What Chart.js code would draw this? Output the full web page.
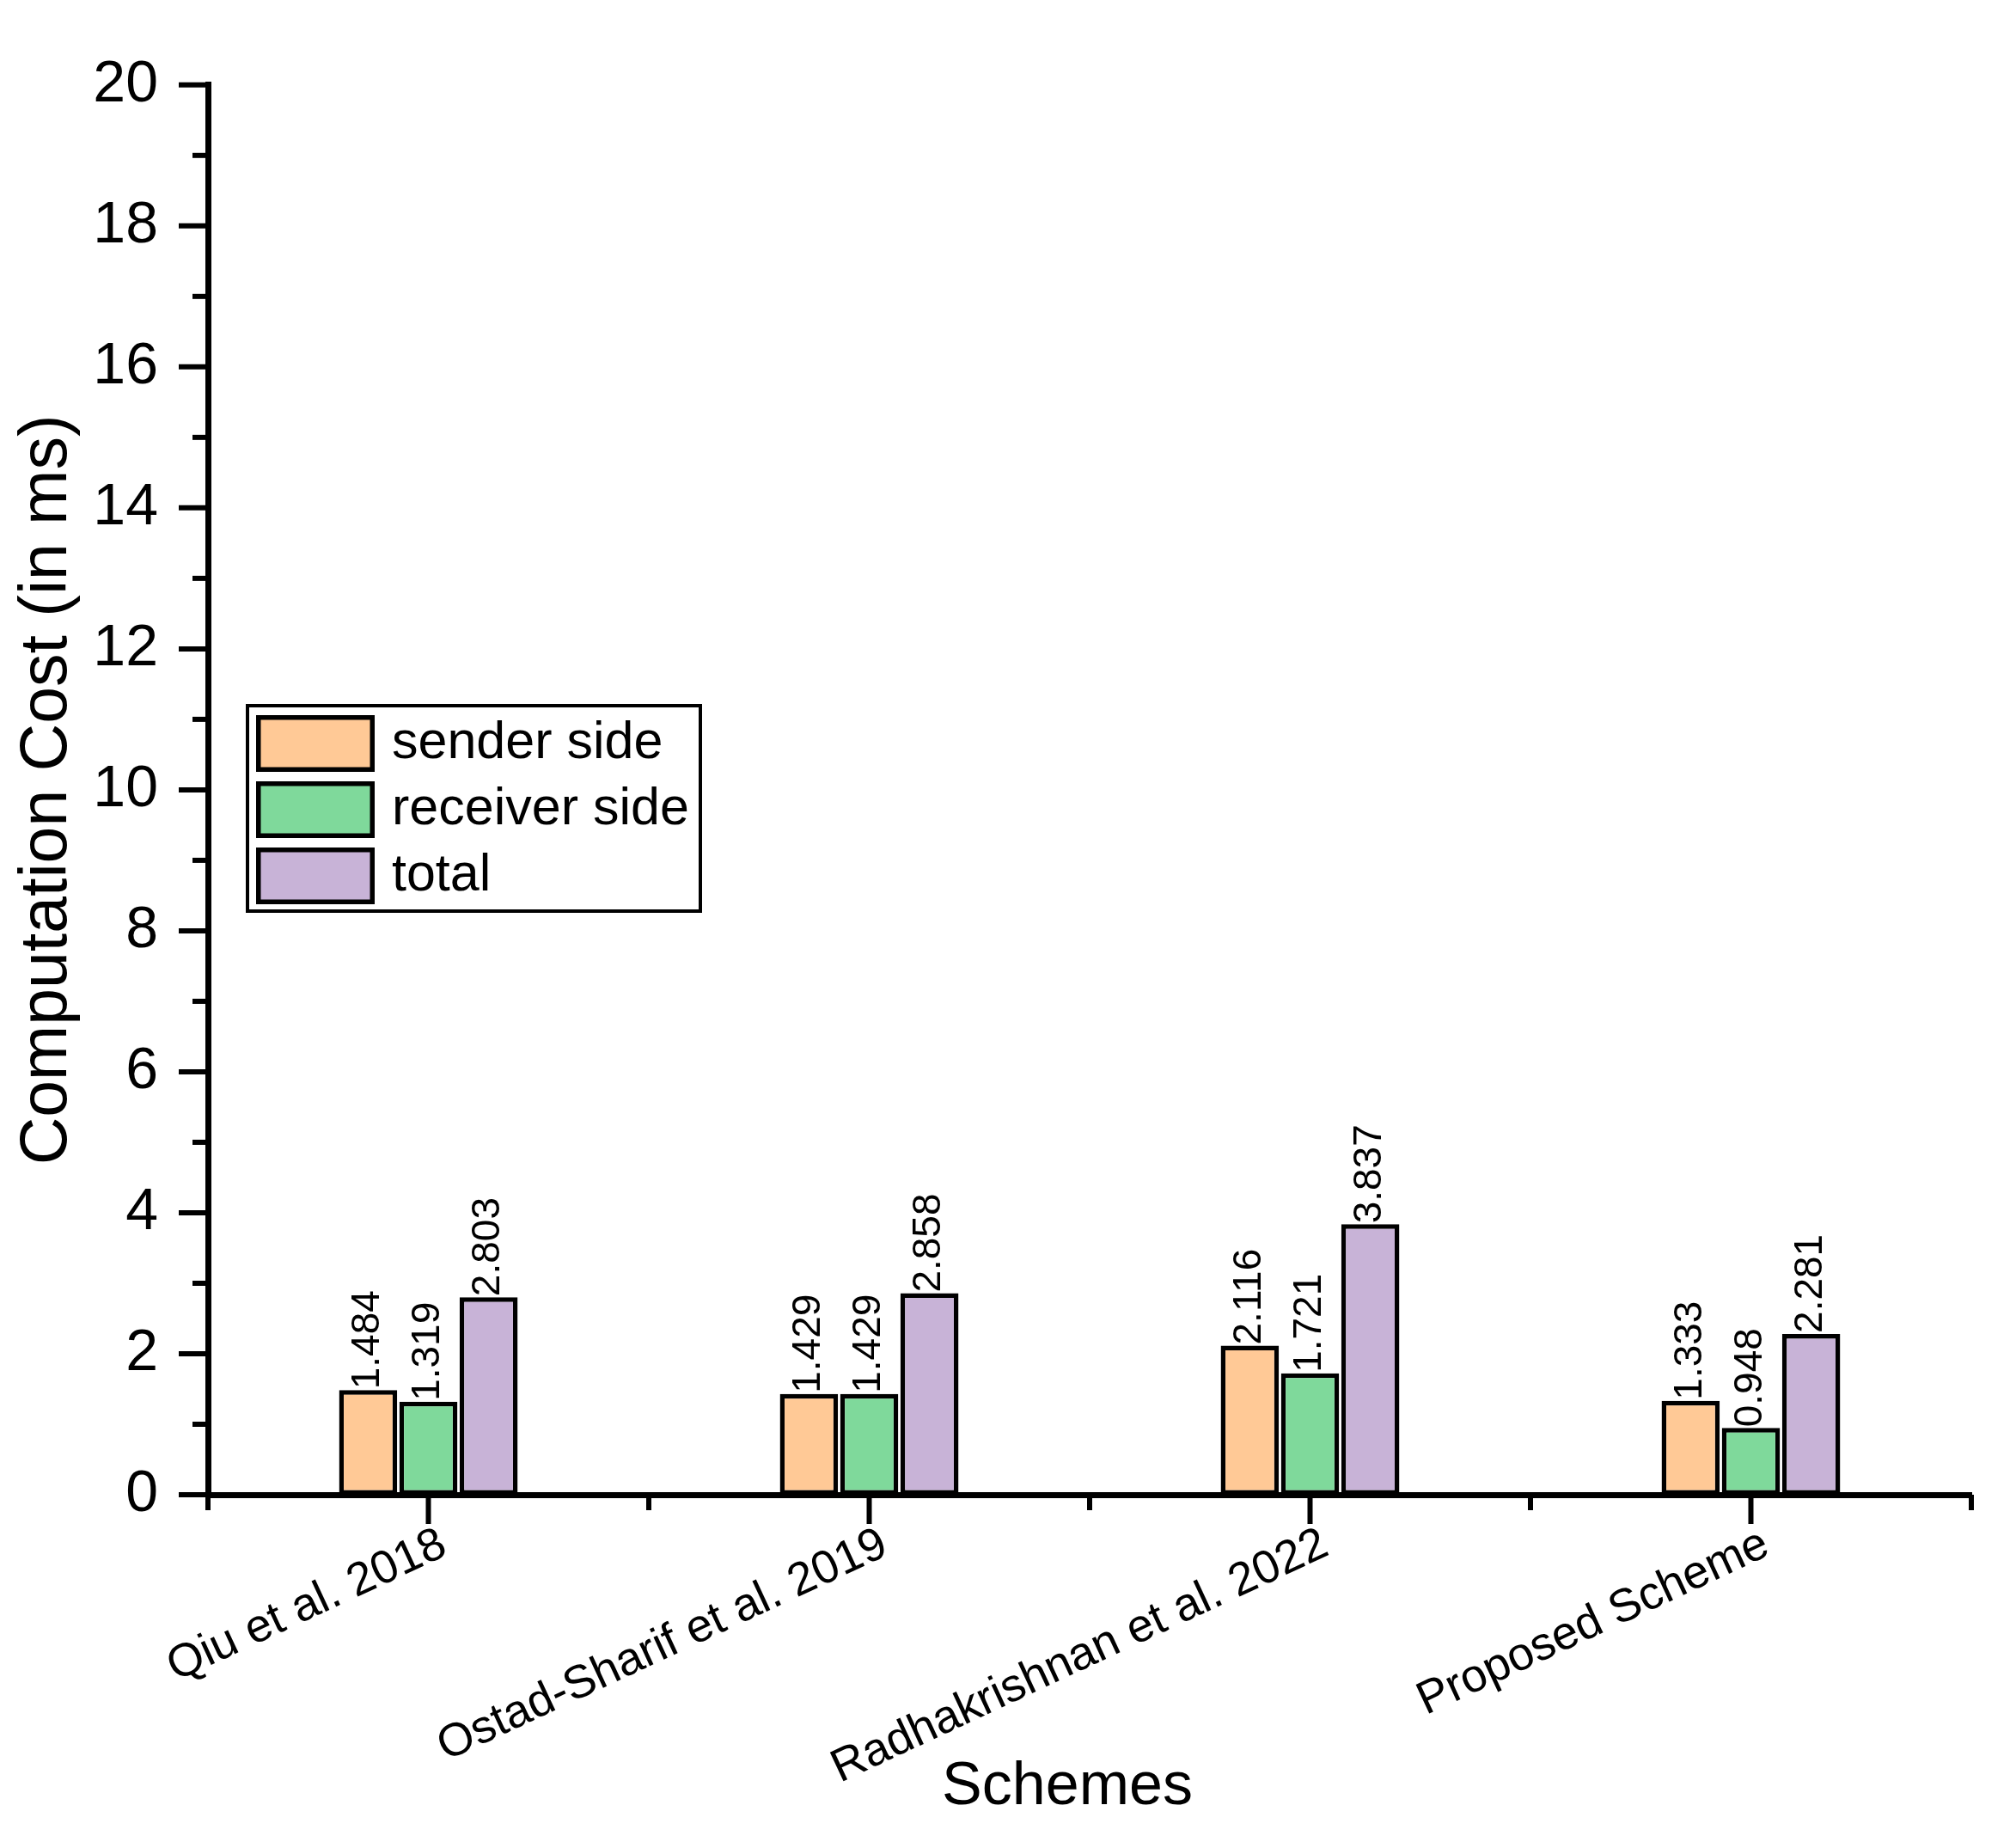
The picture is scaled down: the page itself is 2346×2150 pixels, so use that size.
<!DOCTYPE html>
<html>
<head>
<meta charset="utf-8">
<script src="https://cdn.jsdelivr.net/npm/chart.js@4.4.1/dist/chart.umd.min.js"></script>
<style>
  html, body { margin: 0; padding: 0; background: #ffffff; }
  #wrap { width: 2346px; height: 2150px; }
</style>
</head>
<body>
<div id="wrap"><canvas id="costChart" width="2346" height="2150"></canvas></div>
<script>
// ---- data ----
const schemes = ['Qiu et al. 2018', 'Ostad-Sharif et al. 2019', 'Radhakrishnan et al. 2022', 'Proposed Scheme'];
const seriesNames = ['sender side', 'receiver side', 'total'];
const senderSide = [1.484, 1.429, 2.116, 1.333];
const receiverSide = [1.319, 1.429, 1.721, 0.948];
const totalCost = [2.803, 2.858, 3.837, 2.281];
const seriesColors = ['#FFC996', '#7FD99B', '#C8B3D7'];
const yTickValues = [0, 2, 4, 6, 8, 10, 12, 14, 16, 18, 20];

const FONT = "'Liberation Sans', Arial, Helvetica, sans-serif";
Chart.defaults.font.family = FONT;
Chart.defaults.color = '#000000';

function strokeLine(ctx, x1, y1, x2, y2) {
    ctx.beginPath();
    ctx.moveTo(x1, y1);
    ctx.lineTo(x2, y2);
    ctx.stroke();
}

/* ---- value labels, rotated, above each bar ---- */
const barValueLabels = {
    id: 'barValueLabels',
    afterDatasetsDraw: function (chart) {
        const ctx = chart.ctx;
        ctx.save();
        ctx.font = '46px ' + FONT;
        ctx.fillStyle = '#000000';
        ctx.textAlign = 'left';
        ctx.textBaseline = 'middle';
        chart.data.datasets.forEach(function (ds, di) {
            chart.getDatasetMeta(di).data.forEach(function (bar, i) {
                ctx.save();
                ctx.translate(bar.x, bar.y - 1);
                ctx.rotate(-Math.PI / 2);
                ctx.fillText(ds.data[i].toFixed(3), 0, 0);
                ctx.restore();
            });
        });
        ctx.restore();
    }
};

/* ---- origin-style ticks, legend box, x title ---- */
const axisDecor = {
    id: 'axisDecor',
    afterDraw: function (chart) {
        const ctx = chart.ctx;
        const ca = chart.chartArea;
        const yScale = chart.scales.y;
        const xScale = chart.scales.x;

        ctx.save();
        ctx.strokeStyle = '#000000';
        ctx.lineWidth = 6;
        ctx.lineCap = 'butt';

        // y: major every 2, minor every 1
        const yMax = yTickValues[yTickValues.length - 1];
        for (let v = yTickValues[0]; v <= yMax; v += 1) {
            const py = yScale.getPixelForValue(v);
            const len = yTickValues.includes(v) ? 34 : 18;
            strokeLine(ctx, ca.left - len, py, ca.left, py);
        }

        // x: minor at category edges, major at centres
        const n = schemes.length;
        const w = (ca.right - ca.left) / n;
        for (let i = 0; i <= n; i++) {
            const px = ca.left + i * w;
            strokeLine(ctx, px, ca.bottom, px, ca.bottom + 18);
        }
        schemes.forEach(function (s, i) {
            const px = xScale.getPixelForValue(i);
            strokeLine(ctx, px, ca.bottom, px, ca.bottom + 34);
        });

        // x title
        ctx.fillStyle = '#000000';
        ctx.font = '70px ' + FONT;
        ctx.textAlign = 'center';
        ctx.textBaseline = 'middle';
        ctx.fillText('Schemes', 1242, 2080);

        // legend
        const lx = 288, ly = 821, lw = 527, lh = 239;
        ctx.lineWidth = 4;
        ctx.strokeRect(lx, ly, lw, lh);
        ctx.font = '61px ' + FONT;
        ctx.textAlign = 'left';
        chart.data.datasets.forEach(function (ds, i) {
            const sy = 832 + i * 77;
            ctx.fillStyle = ds.backgroundColor;
            ctx.fillRect(298, sy, 138, 66);
            ctx.lineWidth = 5.5;
            ctx.strokeRect(300.75, sy + 2.75, 132.5, 60.5);
            ctx.fillStyle = '#000000';
            ctx.fillText(ds.label, 456, sy + 33);
        });

        ctx.restore();
    }
};

const datasets = [senderSide, receiverSide, totalCost].map(function (vals, i) {
    return {
        label: seriesNames[i],
        data: vals,
        backgroundColor: seriesColors[i],
        borderColor: '#000000',
        borderWidth: 5.5,
        borderSkipped: false,
        categoryPercentage: 0.41,
        barPercentage: 0.965,
    };
});

new Chart(document.getElementById('costChart').getContext('2d'), {
    type: 'bar',
    data: { labels: schemes, datasets: datasets },
    options: {
        responsive: false,
        animation: false,
        devicePixelRatio: 1,
        layout: { padding: { top: 86, right: 52, left: 0, bottom: 0 } },
        plugins: {
            legend: { display: false },
            tooltip: { enabled: false },
        },
        scales: {
            x: {
                grid: { display: false, drawTicks: false },
                border: { display: true, color: '#000000', width: 7 },
                ticks: {
                    color: '#000000',
                    font: { size: 54 },
                    minRotation: 25,
                    maxRotation: 25,
                    autoSkip: false,
                    padding: 26,
                    labelOffset: 18,
                },
                afterFit: function (scale) { scale.height = 411; }
            },
            y: {
                min: 0,
                max: 20,
                grid: { display: false, drawTicks: false },
                border: { display: true, color: '#000000', width: 7 },
                ticks: {
                    stepSize: 2,
                    color: '#000000',
                    font: { size: 68 },
                    padding: 58,
                },
                title: {
                    display: true,
                    text: 'Computation Cost (in ms)',
                    color: '#000000',
                    font: { size: 77 },
                    padding: { top: 10, bottom: 0 },
                },
                afterFit: function (scale) { scale.width = 242; }
            }
        }
    },
    plugins: [barValueLabels, axisDecor]
});
</script>
</body>
</html>
